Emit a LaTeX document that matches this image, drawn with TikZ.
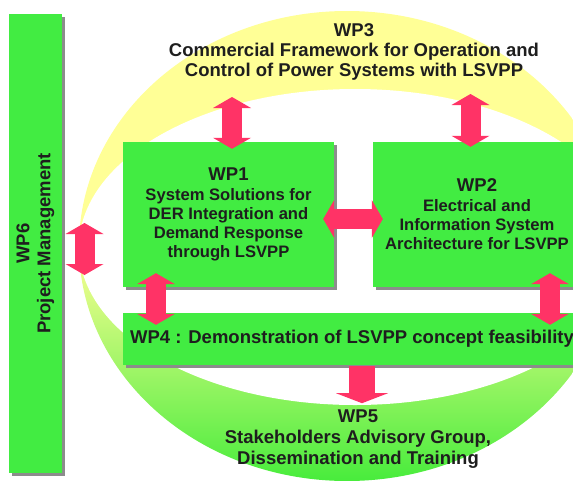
\documentclass[tikz,border=0pt]{standalone}
\usepackage{fontspec}
\setmainfont{Liberation Sans}
\usetikzlibrary{arrows.meta,shadows}
\definecolor{boxgreen}{RGB}{66,236,66}
\definecolor{ringyellow}{RGB}{255,255,150}
\definecolor{ringgreen}{RGB}{72,236,60}
\definecolor{shadowgray}{RGB}{140,140,140}
\definecolor{arrowred}{RGB}{255,51,102}
\definecolor{wptext}{RGB}{30,30,30}
\newcommand{\wptitlefont}{\bfseries\fontsize{18.5}{20}\selectfont}
\newcommand{\wpwidefont}{\bfseries\fontsize{18.5}{21}\selectfont}
\newcommand{\wpbodyfont}{\bfseries\fontsize{16.6}{19}\selectfont}

\begin{document}
\begin{tikzpicture}[x=1pt, y=-1pt,
    wpbox/.style={rectangle, fill=boxgreen, inner sep=0pt,
              drop shadow={shadow xshift=2.5pt, shadow yshift=-2.5pt,
                           fill=shadowgray, opacity=1},
              text=wptext, align=center, font=\wpbodyfont},
    wplabel/.style={text=wptext, align=center, font=\wptitlefont},
    dblarrow/.style={draw=arrowred, line width=20pt,
              >={Triangle[width=38pt, length=11pt, line width=0pt]}, <->},
    sglarrow/.style={draw=arrowred, line width=26pt,
              -{Triangle[width=52pt, length=10pt, line width=0pt]}}
]
    \useasboundingbox (0,0) rectangle (573,480);
    \clip (0,0) rectangle (573,480);

    \shade[top color=ringyellow, bottom color=ringgreen, middle color=ringyellow]
        (347,246) ellipse [x radius=268, y radius=235];
    \fill[white] (355,247) ellipse [x radius=276, y radius=158];

    \node[wpbox, minimum width=53pt, minimum height=459pt] (wp6) at (35.5,243.5) {};
    \node[wplabel, rotate=90, font=\wpwidefont] (wp6text) at (wp6)
        {WP6\\Project Management};

    \node[wpbox, minimum width=211pt, minimum height=145pt] (wp1) at (228.5,214.5)
        {{\wptitlefont WP1}\\[1pt]System Solutions for\\DER Integration and\\Demand Response\\through LSVPP};
    \node[wpbox, minimum width=208pt, minimum height=145pt] (wp2) at (477,214.5)
        {{\wptitlefont WP2}\\[1pt]Electrical and\\Information System\\Architecture for LSVPP};
    \node[wpbox, minimum width=458pt, minimum height=52pt, font=\wptitlefont] (wp4) at (352,339)
        {WP4 : Demonstration of LSVPP concept feasibility};

    \node[wplabel] (wp3) at (354,52)
        {WP3\\Commercial Framework for Operation and\\Control of Power Systems with LSVPP};
    \node[wplabel, font=\wpwidefont] (wp5) at (358,439)
        {WP5\\Stakeholders Advisory Group,\\Dissemination and Training};

    \coordinate (wp3a) at (232,97);
    \coordinate (wp3b) at (470.5,94);
    \coordinate (pinch) at (84.5,249);

    \draw[dblarrow] (wp3a) -- ([yshift=-7pt]wp3a |- wp1.north);
    \draw[dblarrow] (wp3b) -- ([yshift=-5pt]wp3b |- wp2.north);
    \draw[dblarrow] ([yshift=26pt]pinch) -- ([yshift=-26pt]pinch);
    \draw[dblarrow] ([xshift=-11pt,yshift=-4.5pt]wp1.east) -- ([xshift=10pt,yshift=-4.5pt]wp2.west);
    \draw[dblarrow] ([xshift=-72.5pt,yshift=14pt]wp1.south)
        -- ([xshift=-72.5pt,yshift=-12pt]wp1.south |- wp4.north);
    \draw[dblarrow] ([xshift=73pt,yshift=14pt]wp2.south)
        -- ([xshift=73pt,yshift=-12pt]wp2.south |- wp4.north);
    \draw[sglarrow] ([xshift=10pt,yshift=-1pt]wp4.south) -- ([xshift=10pt,yshift=-38pt]wp4.south);
\end{tikzpicture}
\end{document}
